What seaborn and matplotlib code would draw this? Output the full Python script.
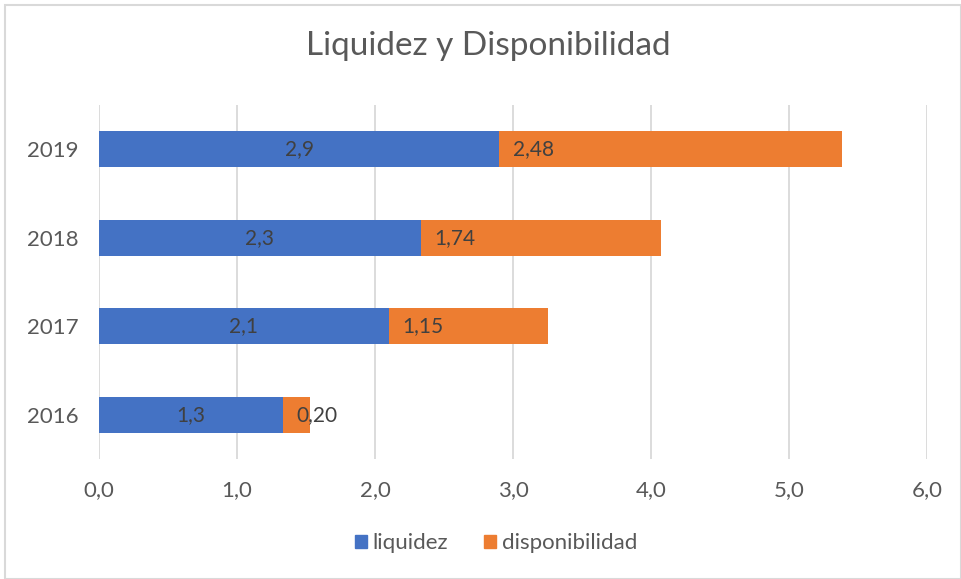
import matplotlib
matplotlib.use("Agg")
import matplotlib.pyplot as plt
import matplotlib.patches as mpatches
import seaborn as sns
import pandas as pd

years = ["2019", "2018", "2017", "2016"]
liquidez = [2.9, 2.33, 2.1, 1.33]
disponibilidad = [2.48, 1.74, 1.15, 0.20]
liq_labels = ["2,9", "2,3", "2,1", "1,3"]
disp_labels = ["2,48", "1,74", "1,15", "0,20"]
xticks = [0, 1, 2, 3, 4, 5, 6]

blue = "#4472C4"
orange = "#ED7D31"
txt = "#595959"

sns.set_theme(style="white")
plt.rcParams["font.family"] = ["Lato", "DejaVu Sans"]

df = pd.DataFrame({"year": years, "liquidez": liquidez, "disponibilidad": disponibilidad})
df["total"] = df["liquidez"] + df["disponibilidad"]

fig = plt.figure(figsize=(9.61, 5.79), dpi=100)
ax = fig.add_axes([0.103, 0.207, 0.862, 0.612])

# stacked: total in orange underneath, liquidez in blue on top
sns.barplot(data=df, x="total", y="year", order=years, color=orange, width=0.41,
            saturation=1, linewidth=0, ax=ax, zorder=3)
sns.barplot(data=df, x="liquidez", y="year", order=years, color=blue, width=0.41,
            saturation=1, linewidth=0, ax=ax, zorder=3)

for i in range(len(years)):
    ax.text(liquidez[i] / 2, i, liq_labels[i], ha="center", va="center",
            fontsize=15, color="#404040", zorder=4)
    ax.text(liquidez[i] + 0.1, i, disp_labels[i], ha="left", va="center",
            fontsize=15, color="#404040", zorder=4)

ax.set_xlim(0, 6)
ax.set_ylim(3.5, -0.5)
ax.set_xticks(xticks)
ax.set_xticklabels([f"{v:.1f}".replace(".", ",") for v in xticks])
ax.grid(axis="x", color="#d9d9d9", linewidth=1.3, zorder=0)
for s in ax.spines.values():
    s.set_visible(False)
ax.tick_params(axis="both", length=0, labelsize=16, colors=txt)
ax.tick_params(axis="x", pad=15)
ax.tick_params(axis="y", pad=15)
ax.set_xlabel("")
ax.set_ylabel("")

fig.text(0.508, 0.905, "Liquidez y Disponibilidad", ha="center", va="baseline",
         fontsize=24, color=txt)

handles = [mpatches.Patch(color=blue, label="liquidez"),
           mpatches.Patch(color=orange, label="disponibilidad")]
fig.legend(handles=handles, loc="center", bbox_to_anchor=(0.516, 0.062), ncol=2,
           frameon=False, fontsize=16, handlelength=0.55, handleheight=0.55,
           handletextpad=0.25, columnspacing=1.6, labelcolor=txt)

fig.patches.append(mpatches.Rectangle((0.005, 0.0), 0.995, 0.992, transform=fig.transFigure,
                                      fill=False, edgecolor="#d9d9d9", linewidth=1.5))

fig.savefig("out.png", dpi=100, facecolor="white")
